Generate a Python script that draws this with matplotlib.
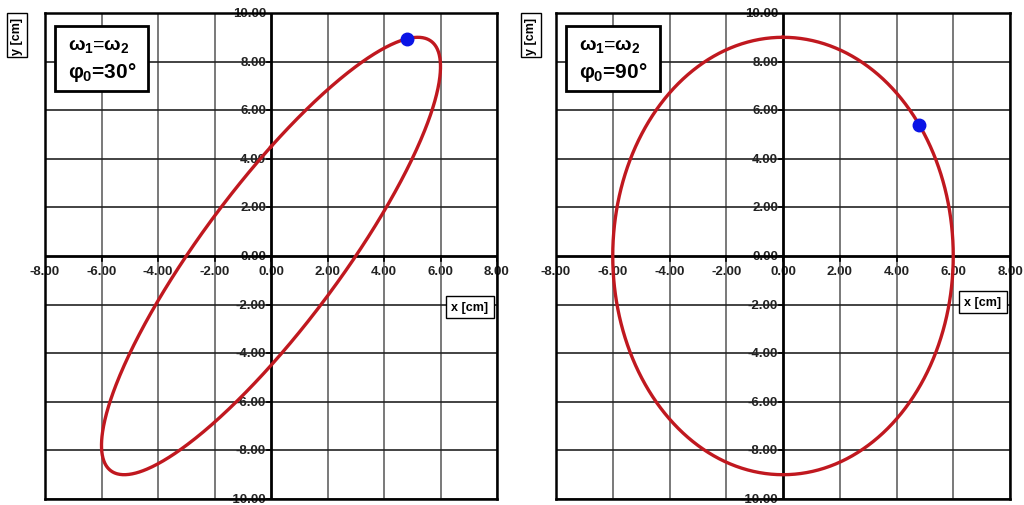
import numpy as np
import matplotlib
matplotlib.use("Agg")
import matplotlib.pyplot as plt
from matplotlib.patches import Rectangle

plt.rcParams['font.family'] = ['Liberation Sans', 'DejaVu Sans']
plt.rcParams['mathtext.fontset'] = 'custom'
plt.rcParams['mathtext.rm'] = 'Liberation Sans:bold'
plt.rcParams['mathtext.it'] = 'Liberation Sans:bold'
plt.rcParams['mathtext.bf'] = 'Liberation Sans:bold'

# oscillation parameters
amp_x = 6.0          # cm
amp_y = 9.0          # cm
phases_deg = [30, 90]
phase_labels = ['30°', '90°']
dot_angle_deg = 53.13  # position of the blue point on the path

x_ticks = [-8, -6, -4, -2, 0, 2, 4, 6, 8]
y_ticks = [-10, -8, -6, -4, -2, 0, 2, 4, 6, 8, 10]

curve_color = '#c0181f'
dot_color = '#0a14e6'

fig = plt.figure(figsize=(10.24, 5.06), dpi=100)

panels = [
    # left, bottom, width, height in figure coords
    (45 / 1024, 1 - 500 / 506, 452 / 1024, 486 / 506),
    (556 / 1024, 1 - 500 / 506, 454 / 1024, 486 / 506),
]
ylabel_pos = [(17 / 1024, 1 - 36 / 506), (531 / 1024, 1 - 36 / 506)]
xlabel_pos = [(470 / 1024, 1 - 308 / 506), (983 / 1024, 1 - 303 / 506)]

theta = np.linspace(0, 2 * np.pi, 721)

for i, phi in enumerate(phases_deg):
    ax = fig.add_axes(panels[i])
    ax.set_xlim(x_ticks[0], x_ticks[-1])
    ax.set_ylim(y_ticks[0], y_ticks[-1])
    ax.set_xticks([])
    ax.set_yticks([])
    for s in ax.spines.values():
        s.set_linewidth(1.8)
        s.set_color('black')
        s.set_zorder(5)

    # grid
    for xv in x_ticks:
        if xv != 0:
            ax.axvline(xv, color='#555555', lw=1.1, zorder=2)
    for yv in y_ticks:
        if yv != 0:
            ax.axhline(yv, color='#222222', lw=1.2, zorder=2)
    ax.axvline(0, color='black', lw=2.0, zorder=3)
    ax.axhline(0, color='black', lw=2.0, zorder=3)

    # tick labels
    for xv in x_ticks:
        ax.text(xv, -0.35, f'{xv:.2f}', ha='center', va='top', fontsize=9.5,
                fontweight='bold', color='#222222', zorder=1)
        ax.plot([xv, xv], [0, -0.2], color='black', lw=1.2, zorder=3)
    for yv in y_ticks:
        ax.text(-0.18, yv, f'{yv:.2f}', ha='right', va='center', fontsize=9.5,
                fontweight='bold', color='#222222', zorder=1)
        ax.plot([-0.15, 0], [yv, yv], color='black', lw=1.2, zorder=3)

    # trajectory
    ph = np.radians(phi)
    xs = amp_x * np.sin(theta)
    ys = amp_y * np.sin(theta + ph)
    ax.plot(xs, ys, color=curve_color, lw=2.4, zorder=4)
    t0 = np.radians(dot_angle_deg)
    ax.plot(amp_x * np.sin(t0), amp_y * np.sin(t0 + ph), 'o',
            color=dot_color, ms=9, zorder=6)

    # parameter box
    rect = Rectangle((-7.65, 6.8), 3.3, 2.67, facecolor='white',
                     edgecolor='black', lw=2.0, zorder=7)
    ax.add_patch(rect)
    ax.text(-7.2, 8.7, r'$\omega_1$=$\omega_2$', ha='left', va='center',
            fontsize=14, zorder=8)
    ax.text(-7.2, 7.6, r'$\varphi_0$=' + phase_labels[i], ha='left',
            va='center', fontsize=15, fontweight='bold', zorder=8)

    fig.text(*ylabel_pos[i], 'y [cm]', rotation=90, ha='center', va='center',
             fontsize=9, fontweight='bold',
             bbox=dict(boxstyle='square,pad=0.3', fc='white', ec='black', lw=1))
    fig.text(*xlabel_pos[i], 'x [cm]', ha='center', va='center',
             fontsize=9, fontweight='bold', zorder=8,
             bbox=dict(boxstyle='square,pad=0.4', fc='white', ec='black', lw=1))

fig.savefig('out.png', dpi=100)
